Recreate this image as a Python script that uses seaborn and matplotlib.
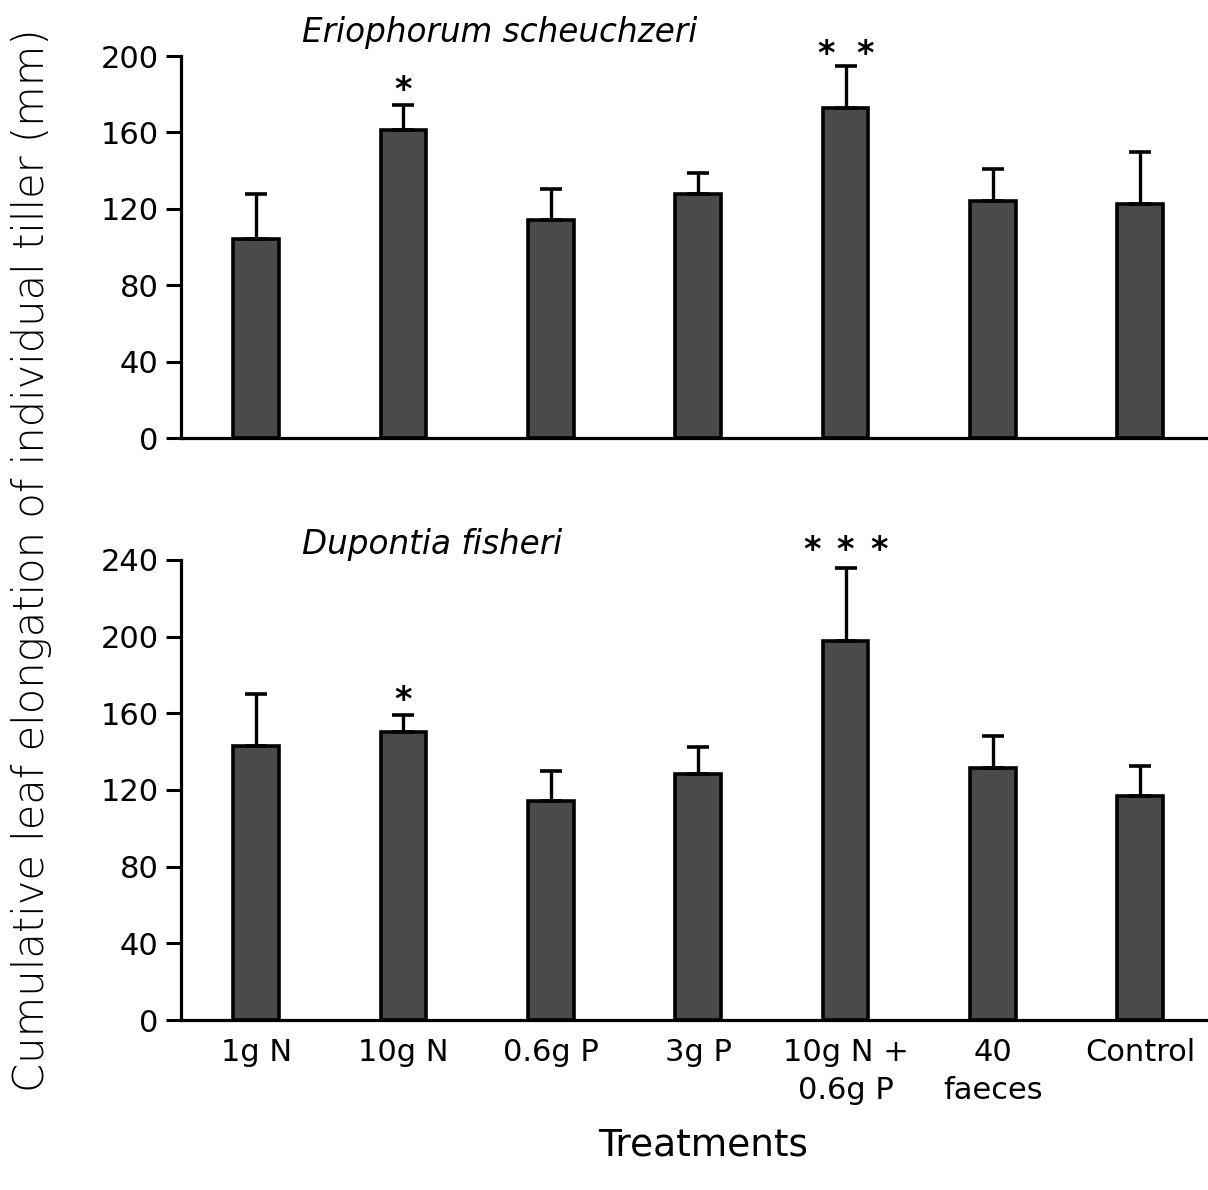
import matplotlib
matplotlib.use("Agg")
import matplotlib.pyplot as plt
import seaborn as sns
import pandas as pd
import numpy as np

# ---------------- data ----------------
treatments = ["1g N", "10g N", "0.6g P", "3g P", "10g N +\n0.6g P", "40\nfaeces", "Control"]

erio_mean = [104, 161.5, 114, 128, 173, 124, 122.5]
erio_upper = [128, 174.5, 130.5, 138.5, 195, 141, 149.5]

dupo_mean = [143, 150.5, 114.5, 128.5, 198, 131.5, 117]
dupo_upper = [170, 159, 130, 142.5, 236, 148, 132.5]

erio_stars = {1: "*", 4: "**"}
dupo_stars = {1: "*", 4: "***"}

panel_titles = ["Eriophorum scheuchzeri", "Dupontia fisheri"]
y_label = "Cumulative leaf elongation of individual tiller (mm)"
x_label = "Treatments"

# ---------------- style ----------------
sns.set_style("ticks")
plt.rcParams["font.family"] = ["DejaVu Sans"]
plt.rcParams["text.color"] = "black"
plt.rcParams["axes.labelcolor"] = "black"
plt.rcParams["xtick.color"] = "black"
plt.rcParams["ytick.color"] = "black"

W, H = 1208, 1190
fig = plt.figure(figsize=(W / 100, H / 100), dpi=100)

left = 181 / W
ax_top = fig.add_axes([left, 1 - 438 / H, 1 - left, (438 - 56) / H])
ax_bot = fig.add_axes([left, 1 - 1020 / H, 1 - left, (1020 - 560) / H])

bar_color = "#4a4a4a"


def draw_panel(ax, means, uppers, ymax, yticks, stars, star_y, show_xlabels):
    df = pd.DataFrame({"treatment": treatments, "value": means})
    sns.barplot(data=df, x="treatment", y="value", order=treatments, ax=ax,
                color=bar_color, edgecolor="black", linewidth=2.6,
                width=0.31, errorbar=None, saturation=1)
    m = np.array(means)
    u = np.array(uppers)
    xs = np.arange(len(treatments))
    ax.errorbar(xs, m, yerr=[np.zeros_like(m), u - m], fmt="none",
                ecolor="black", elinewidth=2.4, capsize=8, capthick=2.6,
                zorder=1)
    ax.set_ylim(0, ymax)
    ax.set_xlim(-0.51, 6.46)
    ax.set_yticks(yticks)
    ax.set_xlabel("")
    ax.set_ylabel("")
    for sp in ["top", "right"]:
        ax.spines[sp].set_visible(False)
    for sp in ["left", "bottom"]:
        ax.spines[sp].set_linewidth(2.3)
        ax.spines[sp].set_color("black")
    ax.tick_params(axis="y", length=11, width=2.2, labelsize=22, pad=5,
                   colors="black")
    ax.tick_params(axis="x", length=0, labelsize=22, pad=13, colors="black")
    if show_xlabels:
        for lab in ax.get_xticklabels():
            lab.set_linespacing(1.4)
    else:
        ax.set_xticklabels([])
    for i, s in stars.items():
        n = len(s)
        offs = (np.arange(n) - (n - 1) / 2) * (0.26 if n == 2 else 0.225)
        for o in offs:
            ax.annotate("*", xy=(i + o, star_y[i]), xytext=(0, -14),
                        textcoords="offset points", ha="center",
                        va="baseline", fontsize=24, fontweight="bold",
                        annotation_clip=False)


draw_panel(ax_top, erio_mean, erio_upper, 200, [0, 40, 80, 120, 160, 200],
           erio_stars, {1: 187, 4: 206}, False)
draw_panel(ax_bot, dupo_mean, dupo_upper, 240, [0, 40, 80, 120, 160, 200, 240],
           dupo_stars, {1: 172, 4: 250}, True)

fig.text(302 / W, 1 - 42 / H, panel_titles[0], fontsize=23.5, style="italic",
         ha="left", va="baseline")
fig.text(302 / W, 1 - 554 / H, panel_titles[1], fontsize=23.5, style="italic",
         ha="left", va="baseline")

fig.text(32 / W, 1 - 560 / H, y_label, rotation=90, fontsize=30,
         fontweight=200, ha="center", va="center")
fig.text(703 / W, 1 - 1145 / H, x_label, fontsize=27, ha="center",
         va="center")

fig.savefig("out.png", dpi=100)
